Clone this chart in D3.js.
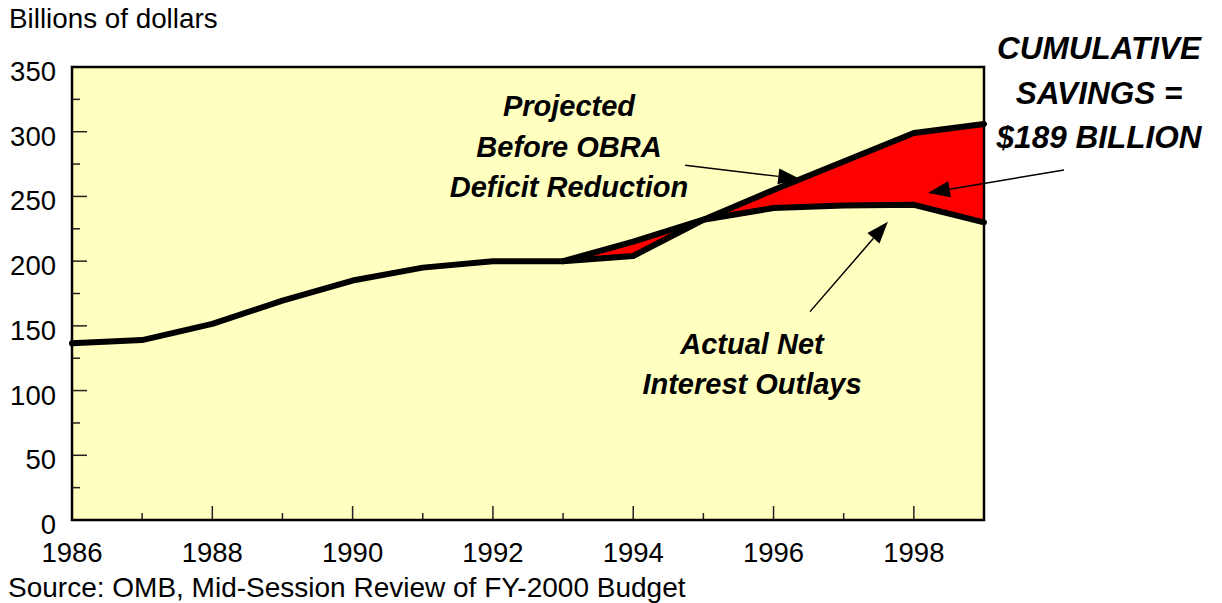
<!DOCTYPE html>
<html><head><meta charset="utf-8">
<script src="https://cdn.jsdelivr.net/npm/d3@7"></script>
<style>
html,body{margin:0;padding:0;background:#fff;}
svg{display:block;}
text{font-family:"Liberation Sans",Arial,Helvetica,sans-serif;fill:#000;}
</style></head>
<body>
<svg id="chart" width="1222" height="603"></svg>
<script>
// ---- data ----
const years = [1986,1987,1988,1989,1990,1991,1992,1993,1994,1995,1996,1997,1998,1999];
const actual = [136.5,139,151.5,169.5,185,195,200,200,204,232,241,243,243.5,230];
const projYears = [1993,1994,1995,1996,1997,1998,1999];
const projected = [200,215,232,255,277,299,306];
const yTicks = [0,50,100,150,200,250,300,350];
const xTickLabels = [1986,1988,1990,1992,1994,1996,1998];
const yLabel = "Billions of dollars";
const sourceNote = "Source: OMB, Mid-Session Review of FY-2000 Budget";
const noteProjected = ["Projected","Before OBRA","Deficit Reduction"];
const noteActual = ["Actual Net","Interest Outlays"];
const noteSavings = ["CUMULATIVE","SAVINGS =","$189 BILLION"];
// arrows in data coordinates: [fromYear, fromValue, toYear, toValue]
const arrowProjected = [1994.74, 274, 1996.38, 263.5];
const arrowActual = [1996.52, 161, 1997.63, 230.5];
const arrowSavings = [2000.14, 270.5, 1998.2, 252.7];

// ---- layout ----
const L = 72, R = 984, T = 67, B = 520;
const svg = d3.select("#chart");
const x = d3.scaleLinear().domain([1986,1999]).range([L,R]);
const y = d3.scaleLinear().domain([0,350]).range([B,T]);

svg.append("rect").attr("x",L).attr("y",T).attr("width",R-L).attr("height",B-T)
  .attr("fill","#FFFFC0");

// ticks
const g = svg.append("g");
d3.range(0,351,25).forEach(v=>{
  const major = v%50===0;
  g.append("line").attr("x1",L).attr("x2",L+(major?15:8))
    .attr("y1",y(v)).attr("y2",y(v)).attr("stroke","#222").attr("stroke-width",1.5);
});
d3.range(1986,2000,1).forEach(yr=>{
  const major = (yr%2===0);
  if(yr===1986) return;
  g.append("line").attr("x1",x(yr)).attr("x2",x(yr))
    .attr("y1",B).attr("y2",B-(major?14:7)).attr("stroke","#222").attr("stroke-width",1.5);
});

// axis labels
yTicks.forEach(v=>{
  svg.append("text").attr("x",L-16).attr("y",y(v)+14).attr("text-anchor","end")
    .attr("font-size",27.5).text(v);
});
xTickLabels.forEach(yr=>{
  svg.append("text").attr("x",x(yr)).attr("y",562).attr("text-anchor","middle")
    .attr("font-size",27.5).text(yr);
});
svg.append("text").attr("x",9).attr("y",28).attr("font-size",27.8).text(yLabel);
svg.append("text").attr("x",8).attr("y",597).attr("font-size",28).text(sourceNote);

// savings area
const actMap = new Map(years.map((yr,i)=>[yr,actual[i]]));
const areaData = projYears.map((yr,i)=>({yr, p:projected[i], a:actMap.get(yr)}));
svg.append("path").datum(areaData)
  .attr("d", d3.area().x(d=>x(d.yr)).y0(d=>y(d.a)).y1(d=>y(d.p)))
  .attr("fill","#FF0000");

const line = d3.line().x(d=>x(d[0])).y(d=>y(d[1]));
svg.append("path").datum(projYears.map((yr,i)=>[yr,projected[i]]))
  .attr("d",line).attr("fill","none").attr("stroke","#000").attr("stroke-width",6)
  .attr("stroke-linejoin","round").attr("stroke-linecap","round");
svg.append("path").datum(years.map((yr,i)=>[yr,actual[i]]))
  .attr("d",line).attr("fill","none").attr("stroke","#000").attr("stroke-width",6)
  .attr("stroke-linejoin","round").attr("stroke-linecap","round");

// frame
svg.append("rect").attr("x",L).attr("y",T).attr("width",R-L).attr("height",B-T)
  .attr("fill","none").attr("stroke","#000").attr("stroke-width",2.5);

// arrows
function arrow(a){
  const x1=x(a[0]), y1=y(a[1]), x2=x(a[2]), y2=y(a[3]);
  const ang = Math.atan2(y2-y1,x2-x1);
  const len=22, hw=8;
  const bx = x2-len*Math.cos(ang), by = y2-len*Math.sin(ang);
  svg.append("line").attr("x1",x1).attr("y1",y1).attr("x2",bx).attr("y2",by)
    .attr("stroke","#000").attr("stroke-width",1.5);
  const px = -Math.sin(ang)*hw, py = Math.cos(ang)*hw;
  svg.append("path").attr("d",`M${x2},${y2}L${bx+px},${by+py}L${bx-px},${by-py}Z`).attr("fill","#000");
}
arrow(arrowProjected); arrow(arrowActual); arrow(arrowSavings);

// annotations
function note(lines, cx, y0, dy, fs){
  lines.forEach((t,i)=>{
    svg.append("text").attr("x",cx).attr("y",y0+i*dy).attr("text-anchor","middle")
      .attr("font-size",fs).attr("font-weight","bold").attr("font-style","italic").text(t);
  });
}
note(noteProjected, 569, 116, 40.5, 29);
note(noteActual, 752, 354, 40, 29);
note(noteSavings, 1099, 59, 44.5, 31.5);
</script>
</body></html>
